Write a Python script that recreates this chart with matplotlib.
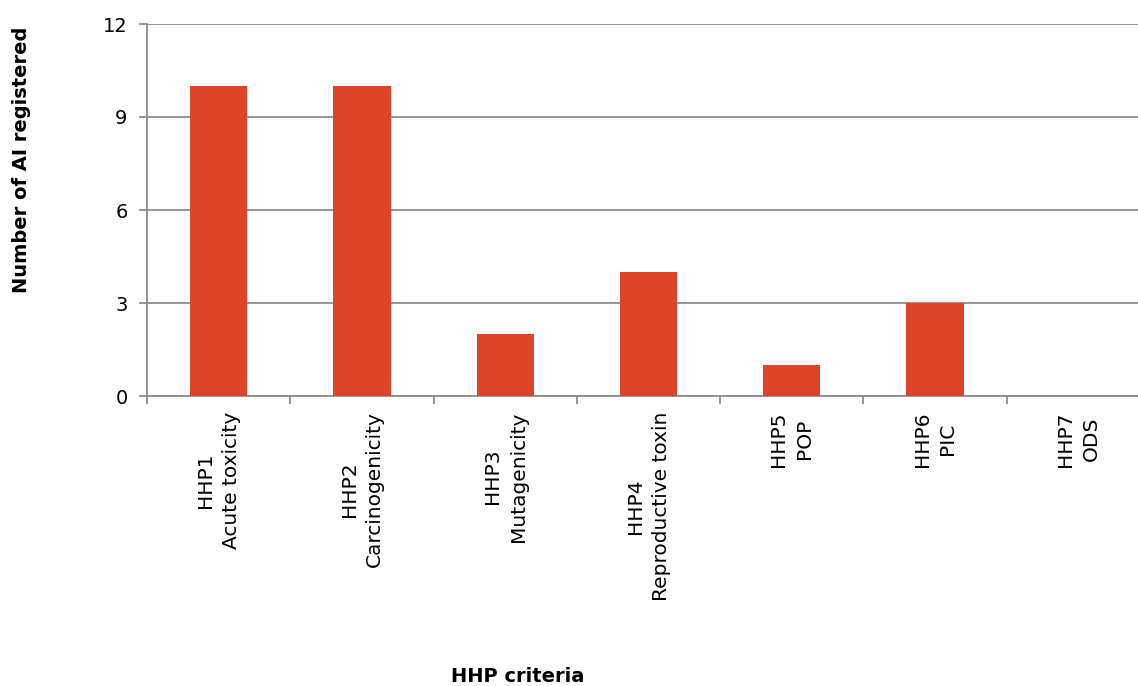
import matplotlib
matplotlib.use("Agg")
import matplotlib.pyplot as plt
import numpy as np

categories = ["HHP1\nAcute toxicity", "HHP2\nCarcinogenicity", "HHP3\nMutagenicity",
              "HHP4\nReproductive toxin", "HHP5\nPOP", "HHP6\nPIC", "HHP7\nODS"]
values = [10, 10, 2, 4, 1, 3, 0]
yticks = [0, 3, 6, 9, 12]

plt.rcParams['font.family'] = ['DejaVu Sans']

W, H = 1138, 686
fig = plt.figure(figsize=(W/100, H/100), dpi=100)
left, right, top, bottom = 147, 1150, 24, 396
ax = fig.add_axes([left/W, 1 - bottom/H, (right-left)/W, (bottom-top)/H])

x = np.arange(len(categories))
ax.bar(x, values, width=0.4, color='#DC452A', zorder=3)
ax.set_xlim(-0.5, len(categories) - 0.5)
ax.set_ylim(0, 12)
ax.set_yticks(yticks)
grid_c = '#8c8c8c'
ax.yaxis.grid(True, color=grid_c, linewidth=1.3, zorder=0)
for s in ['top', 'right']:
    ax.spines[s].set_visible(False)
for s in ['left', 'bottom']:
    ax.spines[s].set_color(grid_c)
    ax.spines[s].set_linewidth(1.3)
ax.tick_params(axis='y', length=6, width=1.3, color=grid_c, labelsize=14, pad=8)
ax.set_xticks(np.arange(len(categories) + 1) - 0.5, minor=True)
ax.set_xticks(x)
ax.set_xticklabels(categories, rotation=90, ha='center', va='top',
                   multialignment='center', fontsize=14.5, linespacing=1.45)
ax.tick_params(axis='x', which='major', length=0, pad=11)
ax.tick_params(axis='x', which='minor', length=6, width=1.3, color=grid_c)

fig.text(22/W, 1 - 160/H, "Number of AI registered", rotation=90, ha='center', va='center',
         fontsize=14, fontweight='bold')
fig.text(518/W, 1 - 676/H, "HHP criteria", ha='center', va='center',
         fontsize=14, fontweight='bold')

fig.savefig("out.png", dpi=100)
